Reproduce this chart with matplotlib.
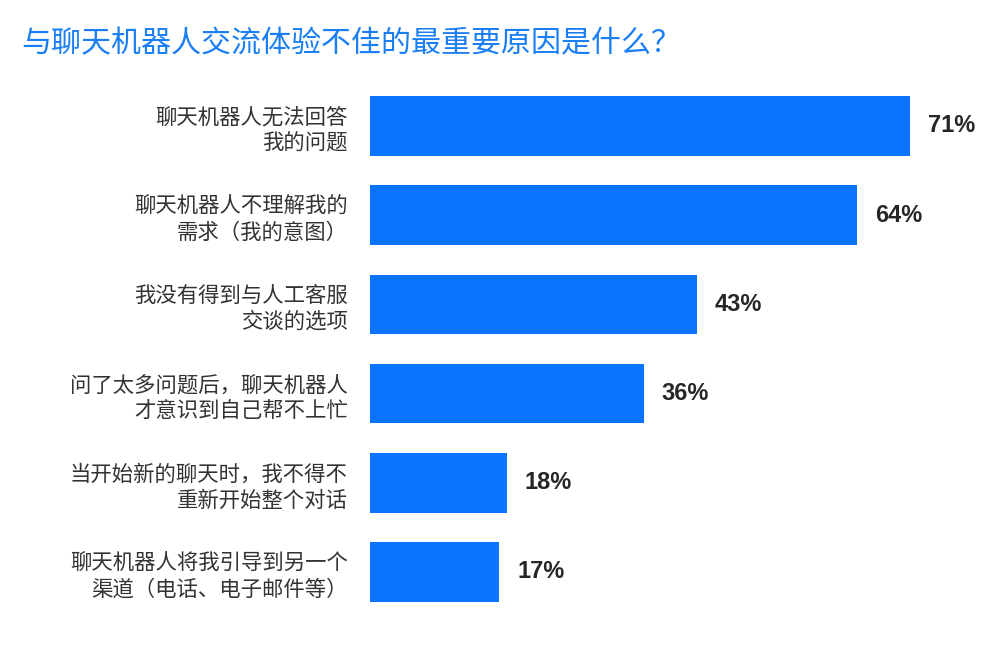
import matplotlib
matplotlib.use("Agg")
import matplotlib.pyplot as plt

plt.rcParams['font.family'] = ['Noto Sans CJK SC', 'DejaVu Sans']

title = "与聊天机器人交流体验不佳的最重要原因是什么？"
categories = [
    "聊天机器人无法回答\n我的问题",
    "聊天机器人不理解我的\n需求（我的意图）",
    "我没有得到与人工客服\n交谈的选项",
    "问了太多问题后，聊天机器人\n才意识到自己帮不上忙",
    "当开始新的聊天时，我不得不\n重新开始整个对话",
    "聊天机器人将我引导到另一个\n渠道（电话、电子邮件等）",
]
values = [71, 64, 43, 36, 18, 17]
value_labels = ["71%", "64%", "43%", "36%", "18%", "17%"]

bar_color = "#0a74ff"

fig = plt.figure(figsize=(10, 6.5), dpi=100)
ax = fig.add_axes([0.37, 0.0514, 0.60, 0.8234])

y = list(range(len(categories)))
ax.barh(y, values, height=0.67, color=bar_color)
ax.set_ylim(len(categories) - 0.5, -0.5)
ax.set_xlim(0, 78.9)

for yi, v, lab in zip(y, values, value_labels):
    ax.annotate(lab, xy=(v, yi), xytext=(13, 0), textcoords="offset points",
                ha="left", va="center", fontsize=17, fontweight="bold",
                color="#262626", family=["Liberation Sans", "DejaVu Sans"])

ax.set_yticks(y)
ax.set_yticklabels(categories, fontsize=15.4, color="#333333", linespacing=1.25, ha="right")
ax.tick_params(axis="y", length=0, pad=16)
ax.set_xticks([])
for s in ax.spines.values():
    s.set_visible(False)

fig.text(0.021, 0.933, title, fontsize=21.6, color="#1a7ef5", ha="left", va="center")

fig.savefig("out.png", dpi=100, facecolor="white")
